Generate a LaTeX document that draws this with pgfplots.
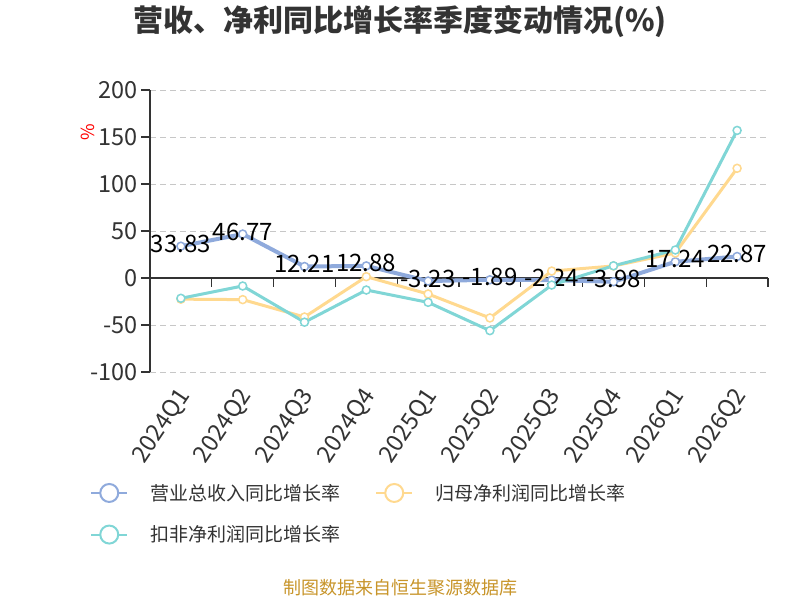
\documentclass[border=0pt]{standalone}
\usepackage{pgfplots}
\pgfplotsset{compat=1.18}
\usepackage{fontspec}
\setmainfont{Noto Sans CJK SC}
\definecolor{cblue}{HTML}{8FAADC}
\definecolor{cyel}{HTML}{FFD98F}
\definecolor{cteal}{HTML}{80D6D6}
\definecolor{ctxt}{HTML}{333333}
\definecolor{cfoot}{HTML}{C8952A}
\begin{document}
\begin{tikzpicture}[x=1pt,y=1pt]
\useasboundingbox (0,0) rectangle (800,600);
\fill[white] (0,0) rectangle (800,600);
\node[font=\fontsize{30}{34}\selectfont\bfseries, text=ctxt] at (400,578) {营收、净利同比增长率季度变动情况(\%)};
\node[font=\fontsize{18}{20}\selectfont, text=cfoot] at (400,12) {制图数据来自恒生聚源数据库};
\node[font=\fontsize{18}{20}\selectfont, text=red, rotate=90] at (88,468) {\%};
\begin{axis}[
  at={(150pt,228pt)}, anchor=south west,
  scale only axis, width=618pt, height=282pt,
  xmin=-0.5, xmax=9.5, ymin=-100, ymax=200,
  ytick={-100,-50,0,50,100,150,200},
  axis y line*=left, axis x line*=bottom,
  x axis line style={draw=none},
  y axis line style={color=ctxt, line width=1.2pt},
  ytick style={color=ctxt, line width=1.2pt},
  xtick style={draw=none},
  major tick length=9pt,
  tick align=outside,
  yticklabel style={font=\fontsize{23.5}{26}\selectfont, text=ctxt},
  /pgf/number format/assume math mode=true,
  xtick={0,1,2,3,4,5,6,7,8,9},
  xticklabels={2024Q1,2024Q2,2024Q3,2024Q4,2025Q1,2025Q2,2025Q3,2025Q4,2026Q1,2026Q2},
  xticklabel style={anchor=east, xshift=6pt, yshift=-8pt, rotate=56, font=\fontsize{23.5}{26}\selectfont, text=ctxt},
  ymajorgrids,
  major grid style={color=black!22, dash pattern=on 6pt off 4pt, line width=1pt},
  clip=false,
  legend columns=2,
  legend style={draw=none, fill=none, at={(-0.097,-0.39)}, anchor=north west,
    font=\fontsize{19}{22}\selectfont, text=ctxt, inner sep=0pt, row sep=20pt,
    /tikz/every odd column/.append style={column sep=20pt},
    /tikz/every even column/.append style={column sep=33pt}},
  legend cell align=left,
  legend image code/.code={
    \draw[line width=2pt] (0pt,0pt) -- (36pt,0pt);
    \draw[line width=2pt, fill=white] (18pt,0pt) circle (9pt);
  },
]
% x axis at zero with boundary ticks
\draw[color=ctxt, line width=1.2pt] (axis cs:-0.5,0) -- (axis cs:9.5,0);
\pgfplotsinvokeforeach{-0.5,0.5,1.5,2.5,3.5,4.5,5.5,6.5,7.5,8.5,9.5}{
  \draw[color=ctxt, line width=1.2pt] (axis cs:#1,0) -- ([yshift=-9pt]axis cs:#1,0);
}
\addplot[color=cblue, line width=4pt, mark=*, mark size=4pt,
  mark options={fill=white, line width=1.5pt},
  point meta=explicit symbolic,
  nodes near coords,
  every node near coord/.style={anchor=base, yshift=-6pt, font=\fontsize{24}{26}\selectfont, text=black}]
  table[meta=lab] {
x y lab
0 33.83 33.83
1 46.77 46.77
2 12.21 12.21
3 12.88 12.88
4 -3.23 -3.23
5 -1.89 -1.89
6 -2.24 -2.24
7 -3.98 -3.98
8 17.24 17.24
9 22.87 22.87
};
\addlegendentry{营业总收入同比增长率}
\addplot[color=cyel, line width=3pt, mark=*, mark size=4pt,
  mark options={fill=white, line width=1.5pt}]
  table {
x y
0 -22.5
1 -23.0
2 -41.5
3 1.4
4 -17.0
5 -42.5
6 7.4
7 12.8
8 26.6
9 116.7
};
\addlegendentry{归母净利润同比增长率}
\addplot[color=cteal, line width=3pt, mark=*, mark size=4pt,
  mark options={fill=white, line width=1.5pt}]
  table {
x y
0 -21.6
1 -8.5
2 -47.0
3 -12.8
4 -25.9
5 -56.0
6 -7.5
7 13.0
8 29.8
9 157.0
};
\addlegendentry{扣非净利润同比增长率}
\end{axis}
\end{tikzpicture}
\end{document}
